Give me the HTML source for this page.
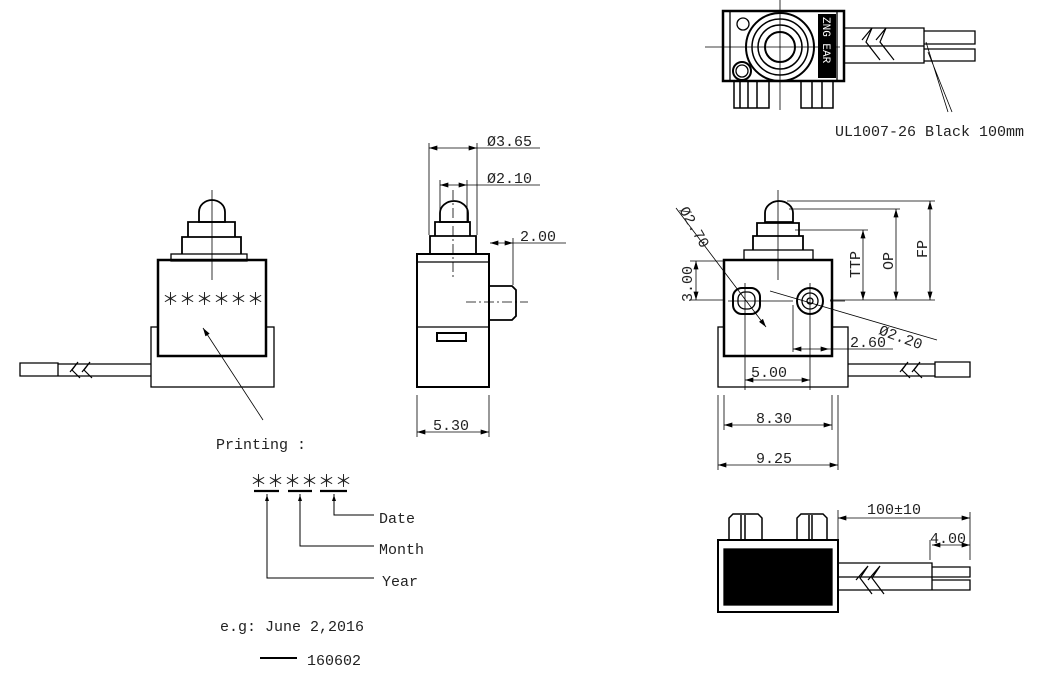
<!DOCTYPE html>
<html><head><meta charset="utf-8"><style>
html,body{margin:0;padding:0;background:#fff;}
svg{display:block;}
text{font-family:"Liberation Mono","DejaVu Sans Mono",monospace;fill:#222;}
.ast{font-family:"Noto Sans CJK SC","WenQuanYi Zen Hei",sans-serif;}
</style></head><body>
<svg width="1048" height="676" viewBox="0 0 1048 676" xmlns="http://www.w3.org/2000/svg">
<defs>
<marker id="a" viewBox="0 0 10 6" refX="10" refY="3" markerWidth="9" markerHeight="5" orient="auto-start-reverse" markerUnits="userSpaceOnUse"><path d="M0,0L10,3L0,6z" fill="#000"/></marker>
</defs>
<g fill="none" stroke="#000" stroke-width="1.3">
<!-- ===== Front view (left) ===== -->
<rect x="151" y="327" width="123" height="60"/>
<rect x="158" y="260" width="108" height="96" fill="#fff" stroke-width="2.5"/>
<rect x="171" y="254" width="76" height="7"/>
<path d="M182,254V237H241V254M188,237V222H235V237" stroke-width="1.8"/>
<path d="M199,222V212A13,12 0 0 1 225,212V222Z" stroke-width="1.8"/>
<line x1="212" y1="190" x2="212" y2="280" stroke-width="0.8"/>
<line x1="263" y1="420" x2="203" y2="328" stroke-width="0.8" marker-end="url(#a)"/>
<path d="M151,364H58M151,376H58M20,363H58V376H20Z"/>
<path d="M70,372L78,362L72,370L80,378M82,372L90,362L84,370L92,378" stroke-width="1.2"/>

<!-- ===== Side view ===== -->
<rect x="417" y="254" width="72" height="133" stroke-width="2"/>
<line x1="417" y1="262" x2="489" y2="262"/>
<line x1="417" y1="327" x2="489" y2="327"/>
<rect x="437" y="333" width="29" height="8" stroke-width="2"/>
<path d="M489,286H512L516,290V316L512,320H489" stroke-width="1.8"/>
<line x1="466" y1="302" x2="528" y2="302" stroke-width="0.8" stroke-dasharray="10,3,2,3"/>
<path d="M430,254V236H476V254M435,236V222H470V236" stroke-width="1.8"/>
<path d="M440,222V213A14,12 0 0 1 468,213V222Z" stroke-width="1.8"/>
<line x1="453" y1="190" x2="453" y2="280" stroke-width="0.8" stroke-dasharray="10,3,2,3"/>
<path d="M429,235V143M477,235V143M440,222V180M467,222V180" stroke-width="0.8"/>
<line x1="429" y1="148" x2="477" y2="148" stroke-width="0.8" marker-start="url(#a)" marker-end="url(#a)"/>
<line x1="477" y1="148" x2="540" y2="148" stroke-width="0.8"/>
<line x1="440" y1="185" x2="467" y2="185" stroke-width="0.8" marker-start="url(#a)" marker-end="url(#a)"/>
<line x1="467" y1="185" x2="540" y2="185" stroke-width="0.8"/>
<line x1="513" y1="238" x2="513" y2="285" stroke-width="0.8"/>
<line x1="490" y1="243" x2="513" y2="243" stroke-width="0.8" marker-start="url(#a)" marker-end="url(#a)"/>
<line x1="513" y1="243" x2="566" y2="243" stroke-width="0.8"/>
<path d="M417,395V437M489,395V437" stroke-width="0.8"/>
<line x1="417" y1="432" x2="489" y2="432" stroke-width="0.8" marker-start="url(#a)" marker-end="url(#a)"/>

<!-- ===== Right view ===== -->
<rect x="718" y="327" width="130" height="60"/>
<rect x="724" y="260" width="108" height="96" fill="#fff" stroke-width="2.5"/>
<rect x="744" y="250" width="69" height="10"/>
<path d="M753,250V236H803V250M757,236V223H799V236" stroke-width="1.8"/>
<path d="M765,222V213A14,12 0 0 1 793,213V222Z" stroke-width="1.8"/>
<line x1="778" y1="190" x2="778" y2="280" stroke-width="0.8"/>
<rect x="733" y="288" width="27" height="26" rx="9" stroke-width="2"/>
<rect x="738" y="292" width="17" height="17" rx="7"/>
<circle cx="810" cy="301" r="13" stroke-width="2"/>
<circle cx="810" cy="301" r="8"/>
<circle cx="810" cy="301" r="3"/>
<path d="M745,283V320M810,283V390M745,310V390M728,301H793M830,301H845" stroke-width="0.8"/>
<path d="M848,364H935M848,376H935M935,362H970V377H935Z"/>
<path d="M900,372L908,362L902,370L910,378M912,372L920,362L914,370L922,378" stroke-width="1.2"/>
<line x1="676" y1="208" x2="766" y2="327" stroke-width="0.8" marker-end="url(#a)"/>
<line x1="770" y1="291" x2="937" y2="340" stroke-width="0.8"/>
<path d="M787,201H935M789,209H900M795,230H868M830,300H935" stroke-width="0.8"/>
<line x1="930" y1="201" x2="930" y2="300" stroke-width="0.8" marker-start="url(#a)" marker-end="url(#a)"/>
<line x1="896" y1="209" x2="896" y2="300" stroke-width="0.8" marker-start="url(#a)" marker-end="url(#a)"/>
<line x1="863" y1="230" x2="863" y2="300" stroke-width="0.8" marker-start="url(#a)" marker-end="url(#a)"/>
<path d="M690,261H724M690,300H724" stroke-width="0.8"/>
<line x1="696" y1="261" x2="696" y2="300" stroke-width="0.8" marker-start="url(#a)" marker-end="url(#a)"/>
<line x1="793" y1="349" x2="829" y2="349" stroke-width="0.8" marker-start="url(#a)" marker-end="url(#a)"/>
<line x1="829" y1="349" x2="893" y2="349" stroke-width="0.8"/>
<path d="M793,305V352" stroke-width="0.8"/>
<line x1="745" y1="380" x2="810" y2="380" stroke-width="0.8" marker-start="url(#a)" marker-end="url(#a)"/>
<path d="M724,395V430M832,395V430M718,395V470M838,395V470" stroke-width="0.8"/>
<line x1="724" y1="425" x2="832" y2="425" stroke-width="0.8" marker-start="url(#a)" marker-end="url(#a)"/>
<line x1="718" y1="465" x2="838" y2="465" stroke-width="0.8" marker-start="url(#a)" marker-end="url(#a)"/>

<!-- ===== Top view ===== -->
<rect x="723" y="11" width="121" height="70" stroke-width="2.5"/>
<path d="M730,11V81M837,11V81"/>
<circle cx="780" cy="47" r="34" stroke-width="2"/>
<circle cx="780" cy="47" r="28" stroke-width="1.5"/>
<circle cx="780" cy="47" r="22" stroke-width="1.5"/>
<circle cx="780" cy="47" r="15" stroke-width="2"/>
<circle cx="743" cy="24" r="6"/>
<circle cx="742" cy="71" r="9" stroke-width="2"/>
<circle cx="742" cy="71" r="6"/>
<path d="M705,47H840M780,0V110" stroke-width="0.8"/>
<path d="M734,81V108H769V81M740,81V108M748,81V108M757,81V108M801,81V108H833V81M812,81V108M822,81V108" stroke-width="1.5"/>
<path d="M844,28H924V63H844M844,46H924M924,31H975V44H924M924,49H975V61H924"/>
<path d="M862,40L872,28L866,42L880,60M876,40L886,28L880,42L894,60" stroke-width="1.2"/>
<path d="M926,42L948,112M928,52L952,112" stroke-width="0.8"/>

<!-- ===== Bottom view ===== -->
<rect x="718" y="540" width="120" height="72" stroke-width="2"/>
<rect x="724" y="549" width="108" height="56" fill="#000"/>
<path d="M729,540V518L733,514H758L762,518V540M745,515V540M741,515V540M797,540V518L801,514H823L827,518V540M812,515V540M809,515V540" stroke-width="1.5"/>
<path d="M838,563H932V590H838M838,577H932M932,567H970V577H932M932,580H970V590H932"/>
<path d="M856,580L868,566L860,578L872,594M868,580L880,566L872,578L884,594" stroke-width="1.2"/>
<path d="M838,510V540M970,512V560M930,540V560" stroke-width="0.8"/>
<line x1="838" y1="518" x2="970" y2="518" stroke-width="0.8" marker-start="url(#a)" marker-end="url(#a)"/>
<line x1="932" y1="545" x2="970" y2="545" stroke-width="0.8" marker-start="url(#a)" marker-end="url(#a)"/>

<!-- ===== Printing legend ===== -->
<path d="M254,491H279M288,491H312M320,491H347" stroke-width="2.2"/>
<path d="M267,494V578H374M300,494V546H374M334,494V515H374" stroke-width="1"/>
<path d="M267,495l-2,6h4zM300,495l-2,6h4zM334,495l-2,6h4z" fill="#000" stroke="none"/>
<line x1="260" y1="658" x2="297" y2="658" stroke-width="2"/>
</g>

<g font-size="15">
<text class="ast" x="162" y="305" font-size="17">＊＊＊＊＊＊</text>
<text class="ast" x="250" y="487" font-size="17">＊＊＊＊＊＊</text>
<text x="487" y="146">Ø3.65</text>
<text x="487" y="183">Ø2.10</text>
<text x="520" y="241">2.00</text>
<text x="433" y="430">5.30</text>
<text x="751" y="377">5.00</text>
<text x="756" y="423">8.30</text>
<text x="756" y="463">9.25</text>
<text x="850" y="347">2.60</text>
<text x="878" y="334" transform="rotate(20 878 334)">Ø2.20</text>
<text x="679" y="210" transform="rotate(60 679 210)">Ø2.70</text>
<text x="692" y="302" transform="rotate(-90 692 302)">3.00</text>
<text x="860" y="278" transform="rotate(-90 860 278)">TTP</text>
<text x="893" y="270" transform="rotate(-90 893 270)">OP</text>
<text x="927" y="258" transform="rotate(-90 927 258)">FP</text>
<text x="835" y="136">UL1007-26 Black 100mm</text>
<text x="867" y="514">100±10</text>
<text x="930" y="543">4.00</text>
<text x="216" y="449">Printing :</text>
<text x="379" y="523">Date</text>
<text x="379" y="554">Month</text>
<text x="382" y="586">Year</text>
<text x="220" y="631">e.g:  June 2,2016</text>
<text x="307" y="665">160602</text>
</g>
<rect x="818" y="14" width="18" height="64" fill="#000"/>
<text x="827" y="17" font-size="11" style="fill:#fff" transform="rotate(90 827 17)" dy="4">ZNG EAR</text>
</svg>
</body></html>
